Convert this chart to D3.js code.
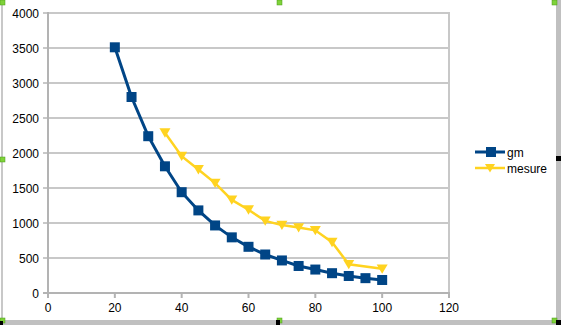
<!DOCTYPE html>
<html><head><meta charset="utf-8">
<script src="https://cdn.jsdelivr.net/npm/d3@7"></script>
<style>html,body{margin:0;padding:0;background:#fff;overflow:hidden}</style>
</head><body>
<svg id="c" width="561" height="325"></svg>
<script>
const gmX = [20,25,30,35,40,45,50,55,60,65,70,75,80,85,90,95,100];
const gmY = [3510,2800,2240,1810,1440,1180,965,795,660,550,465,386,335,283,243,212,186];
const mesureX = [35,40,45,50,55,60,65,70,75,80,85,90,100];
const mesureY = [2290,1955,1765,1570,1330,1190,1030,970,935,895,725,410,345];
const xTicks = [0,20,40,60,80,100,120];
const yTicks = [0,500,1000,1500,2000,2500,3000,3500,4000];
const seriesNames = ["gm","mesure"];

const svg = d3.select("#c");
const x = d3.scaleLinear().domain([0,120]).range([48,449]);
const y = d3.scaleLinear().domain([0,4000]).range([293,13]);
const font = "Liberation Sans, Arial, sans-serif";

// frame decorations
svg.append("rect").attr("x",0).attr("y",0).attr("width",561).attr("height",325).attr("fill","#fff");
svg.append("rect").attr("x",1).attr("y",0).attr("width",2).attr("height",320).attr("fill","#c8c8c8");
svg.append("rect").attr("x",0).attr("y",320).attr("width",561).attr("height",5).attr("fill","#c0c0c0");
svg.append("rect").attr("x",556).attr("y",0).attr("width",5).attr("height",325).attr("fill","#c0c0c0");

// gridlines
svg.append("g").selectAll("line").data(yTicks).join("line")
  .attr("x1",43).attr("x2",449).attr("y1",d=>y(d)).attr("y2",d=>y(d))
  .attr("stroke","#c8c8c8").attr("stroke-width",2);
// right border of plot
svg.append("line").attr("x1",449).attr("x2",449).attr("y1",12).attr("y2",298)
  .attr("stroke","#c8c8c8").attr("stroke-width",2);
// axes lines
svg.append("line").attr("x1",48).attr("x2",48).attr("y1",12).attr("y2",294).attr("stroke","#b3b3b3").attr("stroke-width",2);
svg.append("line").attr("x1",43).attr("x2",450).attr("y1",293).attr("y2",293).attr("stroke","#b3b3b3").attr("stroke-width",2);
svg.append("g").selectAll("line").data(xTicks).join("line")
  .attr("x1",d=>x(d)).attr("x2",d=>x(d)).attr("y1",293).attr("y2",298)
  .attr("stroke","#b3b3b3").attr("stroke-width",2);

// tick labels
svg.append("g").selectAll("text").data(yTicks).join("text")
  .attr("x",39).attr("y",d=>y(d)+4.5).attr("text-anchor","end")
  .attr("font-family",font).attr("font-size",12).attr("fill","#000").text(d=>d);
svg.append("g").selectAll("text").data(xTicks).join("text")
  .attr("x",d=>x(d)).attr("y",312).attr("text-anchor","middle")
  .attr("font-family",font).attr("font-size",12).attr("fill","#000").text(d=>d);

const colors = ["#004586","#ffd320"];
const line = d3.line().x(d=>x(d[0])).y(d=>y(d[1]));
const gmData = gmX.map((v,i)=>[v,gmY[i]]);
const meData = mesureX.map((v,i)=>[v,mesureY[i]]);

function tri(cx,cy,s){ return `M${cx-s},${cy-s*0.8}L${cx+s},${cy-s*0.8}L${cx},${cy+s*0.9}Z`; }

svg.append("path").datum(meData).attr("d",line).attr("fill","none").attr("stroke",colors[1]).attr("stroke-width",2.5);
svg.append("g").selectAll("path").data(meData).join("path")
  .attr("d",d=>tri(x(d[0]),y(d[1]),5.5)).attr("fill",colors[1]);

svg.append("path").datum(gmData).attr("d",line).attr("fill","none").attr("stroke",colors[0]).attr("stroke-width",3);
svg.append("g").selectAll("rect").data(gmData).join("rect")
  .attr("x",d=>x(d[0])-5).attr("y",d=>y(d[1])-5).attr("width",10).attr("height",10).attr("fill",colors[0]);

// legend
const lg = svg.append("g");
[0,1].forEach(i=>{
  const ly = 152 + i*16;
  lg.append("line").attr("x1",475).attr("x2",505).attr("y1",ly).attr("y2",ly).attr("stroke",colors[i]).attr("stroke-width",i?2.5:3);
  if(i===0) lg.append("rect").attr("x",486).attr("y",ly-5).attr("width",10).attr("height",10).attr("fill",colors[0]);
  else lg.append("path").attr("d",tri(490,ly,5)).attr("fill",colors[1]);
  lg.append("text").attr("x",507).attr("y",ly+4.5).attr("font-family",font).attr("font-size",12).attr("fill","#000").text(seriesNames[i]);
});

// selection handles
const handles = [[0,0],[277,0],[552,0],[0,157],[0,318],[277,318],[552,318]];
svg.append("g").selectAll("rect").data(handles).join("rect")
  .attr("x",d=>d[0]).attr("y",d=>d[1]).attr("width",5).attr("height",5)
  .attr("fill","#7fd23a").attr("stroke","#4a9a1a").attr("stroke-width",0.5);
svg.append("rect").attr("x",556).attr("y",156).attr("width",5).attr("height",5).attr("fill","#000");
svg.append("rect").attr("x",276).attr("y",320).attr("width",4).attr("height",5).attr("fill","#000");
svg.append("rect").attr("x",556).attr("y",320).attr("width",5).attr("height",5).attr("fill","#000");
svg.append("rect").attr("x",0).attr("y",321).attr("width",3).attr("height",4).attr("fill","#000");
</script>
</body></html>
